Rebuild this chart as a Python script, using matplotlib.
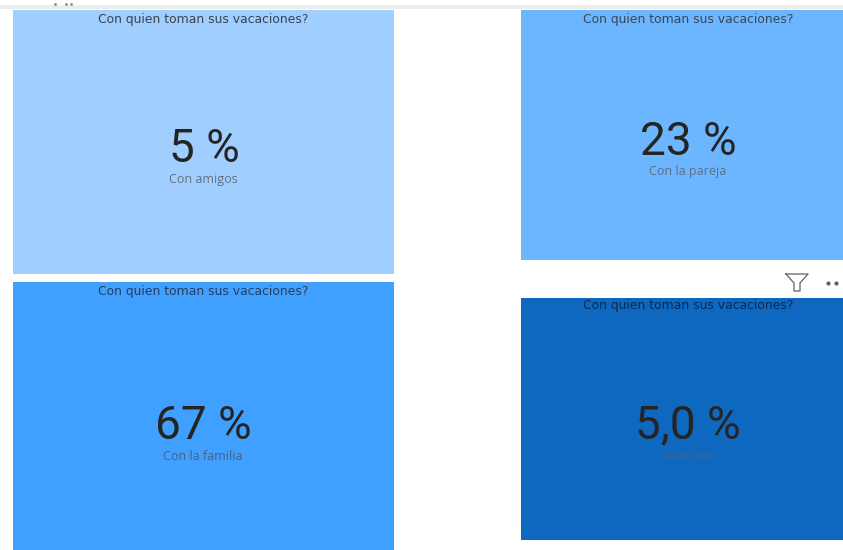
import matplotlib
matplotlib.use('Agg')
import matplotlib.pyplot as plt
from matplotlib.patches import Rectangle

plt.rcParams['font.family'] = ['Roboto', 'DejaVu Sans']

title = 'Con quien toman sus vacaciones?'
values = ['5 %', '23 %', '67 %', '5,0 %']
labels = ['Con amigos', 'Con la pareja', 'Con la familia', 'Sola/Solo']

# card layout in pixels: left, top, right, bottom
boxes = [(13, 10, 394, 274), (521, 10, 843, 260), (13, 282, 394, 550), (521, 298, 843, 540)]
colors = ['#A0CFFF', '#6CB6FF', '#3FA0FF', '#0E68BF']
title_colors = ['#3A4250', '#3A4656', '#2A3E5C', '#0A2A50']
label_colors = ['#66707C', '#5E6E82', '#4E6078', '#45648A']
title_y = [19, 19, 291, 306]
value_y = [149, 142, 426, 425]
label_y = [180, 172, 456, 456]

fig = plt.figure(figsize=(8.43, 5.5), dpi=100)
ax = fig.add_axes([0, 0, 1, 1])
ax.set_xlim(0, 843)
ax.set_ylim(550, 0)
ax.axis('off')

# grey strip across the top of the screenshot, with the cut off text above it
ax.add_patch(Rectangle((0, 5), 843, 4, color='#EDEDED', lw=0))
ax.plot([55, 66, 71], [4, 4, 4], ls='none', marker='o', ms=1, color='#8A8A8A')

for i in range(4):
    x0, y0, x1, y1 = boxes[i]
    ax.add_patch(Rectangle((x0, y0), x1 - x0, y1 - y0, color=colors[i], lw=0))
    cx = 203 if x0 < 100 else 688
    ax.text(cx, title_y[i], title, ha='center', va='center', fontsize=8.9,
            color=title_colors[i], family='DejaVu Sans')
    ax.text(cx + (1 if i == 0 else 0), value_y[i], values[i], ha='center', va='center', fontsize=33,
            color='#252423')
    ax.text(cx, label_y[i], labels[i], ha='center', va='center', fontsize=9,
            color=label_colors[i], family='Open Sans')

# filter icon and the dots of the visual header
ax.plot([786, 808, 800, 800, 794, 794, 786], [274, 274, 283, 291, 291, 283, 274],
        color='#707070', lw=1)
ax.plot([828, 836], [283, 283], ls='none', marker='o', ms=2, color='#605E5C')

fig.savefig('out.png', dpi=100)
